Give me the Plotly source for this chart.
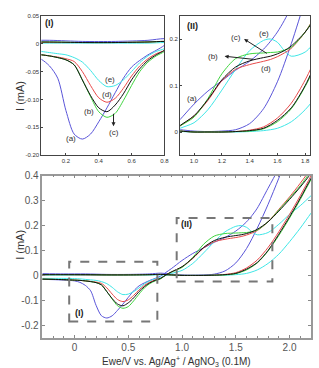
import plotly.graph_objects as go

# ---------------- data ----------------
E_FWD = [-0.3, -0.1, 0.1, 0.3, 0.5, 0.7, 0.8, 0.9, 1.0, 1.1, 1.2, 1.3, 1.4, 1.5,
         1.6, 1.7, 1.8, 1.9, 2.0, 2.1, 2.2, 2.3]
E_REV = [2.3, 2.2, 2.1, 2.0, 1.9, 1.8, 1.7, 1.65, 1.6, 1.55, 1.5, 1.4, 1.3, 1.2,
         1.1, 1.0, 0.9, 0.85, 0.8, 0.75, 0.7, 0.65, 0.6, 0.55, 0.5, 0.45, 0.4,
         0.35, 0.3, 0.25, 0.2, 0.15, 0.1, 0.05, 0.0, -0.1, -0.2, -0.3]

a_fwd = [0.007, 0.006, 0.006, 0.004, 0.004, 0.006, 0.009, 0.005, 0.002, 0.001, 0.002,
         0.005, 0.018, 0.05, 0.108, 0.19, 0.285, 0.39, 0.5, 0.6, 0.7, 0.8]
a_rev = [0.82, 0.72, 0.62, 0.52, 0.43, 0.35, 0.27, 0.24, 0.215, 0.195, 0.178, 0.152,
         0.133, 0.11, 0.088, 0.06, 0.027, 0.012, -0.003, -0.012, -0.02, -0.03, -0.042,
         -0.062, -0.088, -0.115, -0.14, -0.162, -0.171, -0.162, -0.12, -0.062, -0.04,
         -0.028, -0.022, -0.019, -0.017, -0.016]

b_fwd = [0.003, 0.003, 0.003, 0.002, 0.002, 0.003, 0.004, 0.002, 0.0, 0.0, 0.0,
         0.001, 0.003, 0.008, 0.025, 0.052, 0.1, 0.165, 0.235, 0.31, 0.39, 0.47]
b_rev = [0.48, 0.41, 0.355, 0.305, 0.258, 0.215, 0.185, 0.175, 0.168, 0.163, 0.16,
         0.153, 0.14, 0.112, 0.07, 0.035, 0.014, 0.002, -0.012, -0.02, -0.03, -0.045,
         -0.065, -0.09, -0.11, -0.122, -0.115, -0.093, -0.065, -0.038, -0.029, -0.025,
         -0.022, -0.02, -0.019, -0.017, -0.016, -0.015]

c_fwd = [0.003, 0.003, 0.003, 0.002, 0.002, 0.003, 0.004, 0.002, 0.0, 0.0, 0.0,
         0.001, 0.002, 0.007, 0.022, 0.05, 0.098, 0.16, 0.23, 0.305, 0.385, 0.46]
c_rev = [0.49, 0.42, 0.36, 0.31, 0.262, 0.215, 0.182, 0.176, 0.172, 0.171, 0.17,
         0.168, 0.158, 0.125, 0.072, 0.032, 0.013, 0.001, -0.014, -0.022, -0.033,
         -0.05, -0.075, -0.102, -0.125, -0.132, -0.122, -0.095, -0.065, -0.038,
         -0.029, -0.025, -0.022, -0.02, -0.019, -0.017, -0.016, -0.015]

d_fwd = [0.003, 0.003, 0.002, 0.002, 0.002, 0.003, 0.004, 0.002, 0.0, 0.0, 0.0,
         0.001, 0.004, 0.011, 0.03, 0.062, 0.112, 0.175, 0.245, 0.32, 0.4, 0.48]
d_rev = [0.5, 0.43, 0.37, 0.315, 0.265, 0.215, 0.18, 0.17, 0.162, 0.156, 0.152,
         0.145, 0.135, 0.11, 0.068, 0.034, 0.013, 0.002, -0.012, -0.018, -0.027,
         -0.04, -0.058, -0.08, -0.098, -0.105, -0.097, -0.075, -0.05, -0.032, -0.027,
         -0.024, -0.022, -0.02, -0.019, -0.017, -0.016, -0.015]

e_fwd = [0.001, 0.001, 0.001, 0.001, 0.001, 0.001, 0.002, 0.001, 0.0, 0.0, 0.0,
         0.0, 0.001, 0.003, 0.008, 0.022, 0.048, 0.085, 0.135, 0.19, 0.25, 0.31]
e_rev = [0.36, 0.32, 0.28, 0.245, 0.205, 0.172, 0.163, 0.175, 0.193, 0.2, 0.197,
         0.175, 0.135, 0.09, 0.048, 0.02, 0.008, 0.0, -0.009, -0.014, -0.022, -0.034,
         -0.05, -0.065, -0.075, -0.077, -0.066, -0.048, -0.033, -0.025, -0.02, -0.018,
         -0.016, -0.014, -0.013, -0.012, -0.012, -0.012]

SERIES = [("(a)", a_fwd, a_rev, "#5a55d8"),
          ("(e)", e_fwd, e_rev, "#3fe6e6"),
          ("(d)", d_fwd, d_rev, "#e84a4a"),
          ("(c)", c_fwd, c_rev, "#3fd43f"),
          ("(b)", b_fwd, b_rev, "#111111")]

MAIN_XT = [0, 0.5, 1.0, 1.5, 2.0]
MAIN_XL = ["0", "0.5", "1.0", "1.5", "2.0"]
MAIN_YT = [-0.2, -0.1, 0, 0.1, 0.2, 0.3, 0.4]
MAIN_YL = ["-0.2", "-0.1", "0", "0.1", "0.2", "0.3", "0.4"]
I_XT = [0.2, 0.4, 0.6, 0.8]
I_XL = ["0.2", "0.4", "0.6", "0.8"]
I_YT = [0.05, 0, -0.05, -0.10, -0.15, -0.20]
I_YL = ["0.05", "0", "-0.05", "-0.10", "-0.15", "-0.20"]
II_XT = [1.0, 1.2, 1.4, 1.6, 1.8]
II_XL = ["1.0", "1.2", "1.4", "1.6", "1.8"]
II_YT = [0, 0.1, 0.2]
II_YL = ["0", "0.1", "0.2"]

# ---------------- figure ----------------
fig = go.Figure()
for name, fwd, rev, col in SERIES:
    xs = E_FWD + E_REV
    ys = fwd + rev
    for xa, ya in (("x", "y"), ("x2", "y2"), ("x3", "y3")):
        fig.add_trace(go.Scatter(x=xs, y=ys, mode="lines", xaxis=xa, yaxis=ya,
                                 line=dict(color=col, width=1, shape="spline", smoothing=0.8),
                                 showlegend=False, hoverinfo="skip"))

W, H = 319, 368
def px(a, b):
    return [a / W, b / W]
def py(top, bot):
    return [1 - bot / H, 1 - top / H]

small = dict(family="Liberation Sans", size=6, color="#333")
inset_axis = dict(showline=True, linecolor="#444", linewidth=1, mirror=True,
                  ticks="inside", ticklen=2, tickcolor="#444", showgrid=False,
                  zeroline=False, tickfont=small)
main_axis = dict(showline=True, linecolor="#999", linewidth=1.5, mirror="ticks",
                 ticks="inside", ticklen=3, tickcolor="#888", showgrid=False,
                 zeroline=False, tickfont=dict(family="Liberation Sans", size=10, color="#555"))

fig.update_layout(
    width=W, height=H, margin=dict(l=0, r=0, t=0, b=0),
    paper_bgcolor="white", plot_bgcolor="white", showlegend=False,
    xaxis=dict(domain=px(42, 167), range=[0.05, 0.8], tickvals=I_XT, ticktext=I_XL,
               anchor="y", **inset_axis),
    yaxis=dict(domain=py(10, 153), range=[-0.2, 0.05], tickvals=I_YT, ticktext=I_YL,
               anchor="x", **inset_axis),
    xaxis2=dict(domain=px(183, 315), range=[0.9, 1.835], tickvals=II_XT, ticktext=II_XL,
                anchor="y2", **inset_axis),
    yaxis2=dict(domain=py(10, 153), range=[-0.05, 0.25], tickvals=II_YT, ticktext=II_YL,
                anchor="x2", **inset_axis),
    xaxis3=dict(domain=px(43, 316), range=[-0.3, 2.2], tickvals=MAIN_XT, ticktext=MAIN_XL,
                anchor="y3", minor=dict(dtick=0.1, ticks="inside", ticklen=2, tickcolor="#888"),
                **main_axis),
    yaxis3=dict(domain=py(174, 340), range=[-0.25, 0.4], tickvals=MAIN_YT, ticktext=MAIN_YL,
                anchor="x3", **main_axis),
)

# dashed boxes on the main plot
for x0, x1, y0, y1 in ((-0.05, 0.77, -0.185, 0.055), (0.95, 1.84, -0.025, 0.23)):
    fig.add_shape(type="rect", xref="x3", yref="y3", x0=x0, x1=x1, y0=y0, y1=y1,
                  line=dict(color="#777", width=2, dash="dash"))

lab = dict(family="Liberation Sans", size=8, color="#333")
bold = dict(family="Liberation Sans", size=9, color="#222")
ann = []
def T(x, y, t, xr, yr, f=lab):
    ann.append(dict(x=x, y=y, text=t, xref=xr, yref=yr, showarrow=False, font=f))

# inset I labels
T(0.1, 0.037, "<b>(I)</b>", "x", "y", bold)
T(0.47, -0.064, "(e)", "x", "y")
T(0.45, -0.091, "(d)", "x", "y")
T(0.343, -0.121, "(b)", "x", "y")
T(0.49, -0.16, "(c)", "x", "y")
T(0.233, -0.17, "(a)", "x", "y")
ann.append(dict(x=0.49, y=-0.148, ax=0.49, ay=-0.123, xref="x", yref="y",
                axref="x", ayref="y", text="", showarrow=True, arrowhead=2,
                arrowsize=0.8, arrowwidth=1, arrowcolor="#222"))
# inset II labels
T(0.99, 0.229, "<b>(II)</b>", "x2", "y2", bold)
T(1.5, 0.212, "(e)", "x2", "y2")
T(1.3, 0.204, "(c)", "x2", "y2")
T(1.14, 0.163, "(b)", "x2", "y2")
T(1.52, 0.136, "(d)", "x2", "y2")
T(0.985, 0.071, "(a)", "x2", "y2")
ann.append(dict(x=1.36, y=0.2, ax=1.535, ay=0.167, xref="x2", yref="y2",
                axref="x2", ayref="y2", text="", showarrow=True, arrowhead=2,
                arrowsize=0.8, arrowwidth=1, arrowcolor="#222"))
ann.append(dict(x=1.22, y=0.163, ax=1.435, ay=0.156, xref="x2", yref="y2",
                axref="x2", ayref="y2", text="", showarrow=True, arrowhead=2,
                arrowsize=0.8, arrowwidth=1, arrowcolor="#222"))
# main labels
T(0.05, -0.15, "<b>(I)</b>", "x3", "y3", bold)
T(1.04, 0.205, "<b>(II)</b>", "x3", "y3", bold)

# axis titles
tf = dict(family="Liberation Sans", size=11, color="#333")
ann.append(dict(x=12 / W, y=1 - 75 / H, xref="paper", yref="paper", text="I (mA)",
                textangle=-90, showarrow=False, font=tf))
ann.append(dict(x=12 / W, y=1 - 245 / H, xref="paper", yref="paper", text="I (mA)",
                textangle=-90, showarrow=False, font=tf))
ann.append(dict(x=179 / W, y=1 - 356 / H, xref="paper", yref="paper", yanchor="top",
                text="Ewe/V vs. Ag/Ag<sup>+</sup> / AgNO<sub>3</sub> (0.1M)",
                showarrow=False, font=dict(family="Liberation Sans", size=10, color="#333")))
fig.update_layout(annotations=ann)

fig.write_html("out.html")
